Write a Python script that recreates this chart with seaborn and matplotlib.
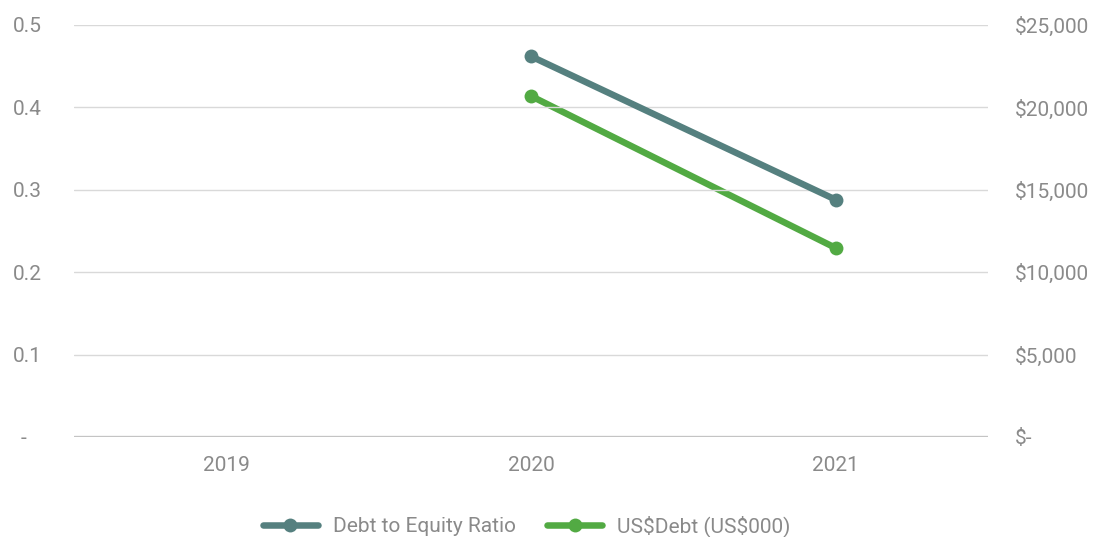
import numpy as np
import pandas as pd
import matplotlib
matplotlib.use("Agg")
import matplotlib.pyplot as plt
import seaborn as sns
from matplotlib.ticker import FuncFormatter, MultipleLocator

years = ["2019", "2020", "2021"]
debt_to_equity = [np.nan, 0.462, 0.288]
debt_usd = [np.nan, 20690, 11470]
series_names = ["Debt to Equity Ratio", "US$Debt (US$000)"]

sns.set_theme(style="white")
plt.rcParams['font.family'] = ['Roboto', 'DejaVu Sans']
plt.rcParams['text.parse_math'] = False

TEXT = "#8a8a8a"
C1 = "#55807f"
C2 = "#52aa43"
FS = 15

df = pd.DataFrame({"pos": np.arange(len(years)), "year": years,
                   "ratio": debt_to_equity, "debt": debt_usd})

fig = plt.figure(figsize=(10.96, 5.37), dpi=100)
ax = fig.add_axes([74/1096, 1-437/537, (988-74)/1096, (437-25)/537])
ax2 = ax.twinx()

sns.lineplot(data=df, x="pos", y="ratio", ax=ax, color=C1, lw=4.7,
             marker="o", markersize=10, markeredgewidth=0, label=series_names[0], legend=False)
sns.lineplot(data=df, x="pos", y="debt", ax=ax2, color=C2, lw=4.7,
             marker="o", markersize=10, markeredgewidth=0, label=series_names[1], legend=False)

ax.set_xlim(-0.5, len(years)-0.5)
ax.set_ylim(0, 0.5)
ax2.set_ylim(0, 25000)
ax.set_xticks(df["pos"])
ax.set_xticklabels(years)
ax.yaxis.set_major_locator(MultipleLocator(0.1))
ax2.yaxis.set_major_locator(MultipleLocator(5000))
ax.yaxis.set_major_formatter(FuncFormatter(lambda v, p: "-   " if abs(v) < 1e-9 else f"{v:.1f}"))
ax2.yaxis.set_major_formatter(FuncFormatter(lambda v, p: "$-" if abs(v) < 1e-9 else f"${v:,.0f}"))

for a in (ax, ax2):
    for s in a.spines.values():
        s.set_visible(False)
    a.set_xlabel("")
    a.set_ylabel("")
    a.tick_params(length=0, labelsize=FS, colors=TEXT)

ax.tick_params(axis="y", pad=23)
ax2.tick_params(axis="y", pad=19.5)
ax.tick_params(axis="x", pad=14)

ax.grid(axis="y", color="#d9d9d9", lw=1)
ax.set_axisbelow(True)
ax.axhline(0, color="#c4c4c4", lw=2.4, zorder=1)
ax.set_zorder(ax2.get_zorder() + 1)
ax.patch.set_visible(False)

h1, l1 = ax.get_legend_handles_labels()
h2, l2 = ax2.get_legend_handles_labels()
fig.legend(h1 + h2, l1 + l2, loc="lower center", bbox_to_anchor=(527/1096, -0.035), ncol=2,
           frameon=False, fontsize=FS, labelcolor=TEXT, handlelength=2.6,
           handletextpad=0.75, columnspacing=1.5)

fig.savefig("out.png", dpi=100, facecolor="white")
